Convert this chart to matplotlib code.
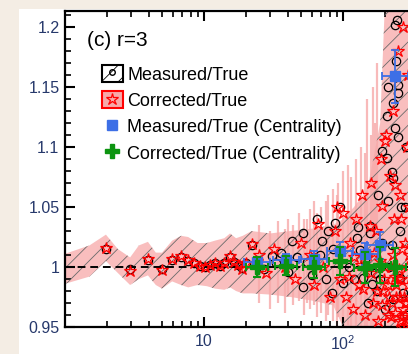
import matplotlib
matplotlib.use("Agg")
import matplotlib.pyplot as plt
from matplotlib.patches import Patch, Rectangle
from matplotlib.lines import Line2D
from matplotlib.ticker import FixedLocator, FixedFormatter, MultipleLocator, LogLocator, NullFormatter

plt.rcParams['font.family'] = ['Liberation Sans', 'DejaVu Sans']
plt.rcParams['mathtext.fontset'] = 'custom'
plt.rcParams['mathtext.rm'] = 'Liberation Sans'
plt.rcParams['mathtext.default'] = 'regular'
plt.rcParams['hatch.linewidth'] = 0.6

# error band (corrected / measured) : multiplicity, lower, upper
band_x = [1, 1.5, 1.97, 2.4, 2.94, 3.4, 3.95, 4.5, 4.99, 5.9, 6.84, 7.7, 9, 10.5, 12, 14,
          15.4, 17, 19, 22, 30, 42, 60, 85, 100, 120, 150, 185, 205, 300]
band_lo = [0.986, 0.992, 1.005, 0.995, 0.985, 0.99, 0.993, 0.985, 0.982, 0.988, 0.985, 0.983,
           0.985, 0.984, 0.982, 0.981, 0.983, 0.98, 0.978, 0.978, 0.977, 0.975, 0.972, 0.968,
           0.95, 0.945, 0.94, 0.935, 0.93, 0.90]
band_hi = [1.011, 1.018, 1.027, 1.015, 1.008, 1.018, 1.021, 1.012, 1.012, 1.022, 1.026, 1.025,
           1.02, 1.02, 1.022, 1.024, 1.028, 1.024, 1.026, 1.03, 1.028, 1.03, 1.032, 1.035,
           1.04, 1.05, 1.065, 1.12, 1.25, 1.30]

# single-point error streaks at high multiplicity
streak_x = [25, 30, 34, 38, 40, 44, 48, 52, 55, 58, 62, 65, 70, 75, 78, 85, 90, 92, 100,
            108, 115, 125, 135, 145, 160, 170, 150, 165, 175]
streak_lo = [0.970, 0.965, 0.970, 0.962, 0.975, 0.968, 0.972, 0.960, 0.970, 0.965, 0.968,
             0.958, 0.962, 0.955, 0.960, 0.955, 0.950, 0.958, 0.950, 0.952, 0.950, 0.950,
             0.950, 0.950, 0.950, 0.950, 0.950, 0.950, 0.950]
streak_hi = [1.035, 1.030, 1.038, 1.032, 1.040, 1.035, 1.045, 1.040, 1.040, 1.048, 1.055,
             1.045, 1.050, 1.055, 1.060, 1.065, 1.060, 1.070, 1.080, 1.085, 1.075, 1.090,
             1.100, 1.095, 1.110, 1.120, 1.140, 1.150, 1.170]

# Measured/True points
meas_x = [1.97, 2.94, 3.95, 4.99, 5.9, 6.84, 7.7, 8.5, 9.3, 10.2, 11, 12, 13, 14, 15.4, 16.5,
          17.5, 18.7, 20, 22.2, 24, 27, 30.8, 33, 36, 40, 43, 47, 51.6, 51.6, 55, 60, 65, 68,
          70.6, 75, 78, 83.4, 85, 87.6, 95.1, 100, 110, 120, 126, 128, 132, 139, 145, 151,
          156, 156, 162, 170, 176, 179, 185, 191, 191, 200, 207, 207, 211, 211, 215, 225,
          225, 229, 229, 229, 237, 237, 241, 245, 249, 249, 249, 257, 257, 260, 270, 280,
          285, 290]
meas_y = [1.015, 0.998, 1.006, 0.998, 1.006, 1.008, 1.005, 1.003, 1.001, 1.0, 1.002, 1.003,
          1.001, 1.003, 1.008, 1.004, 1.002, 0.999, 1.003, 1.018, 1.005, 0.998, 1.009, 1.003,
          1.012, 0.996, 1.022, 1.008, 0.983, 1.028, 1.004, 0.993, 1.040, 1.010, 1.022, 0.990,
          1.030, 0.978, 1.015, 1.037, 1.050, 0.987, 1.0, 0.990, 1.024, 1.033, 1.014, 0.991,
          1.005, 0.970, 1.028, 1.034, 0.986, 0.995, 0.980, 1.060, 0.990, 1.020, 1.097,
          0.965, 1.091, 1.126, 1.055, 1.150, 1.0, 1.018, 1.079, 0.973, 1.074, 1.137, 1.116,
          1.202, 1.172, 1.206, 1.108, 1.152, 1.145, 0.991, 1.030, 1.050, 0.978, 1.050,
          1.100, 0.960]

# Corrected/True points
corr_x = [1.97, 2.94, 3.95, 4.99, 5.9, 6.84, 7.7, 8.5, 9.3, 10.2, 11, 12, 13, 14, 15.4, 16.5,
          17.5, 18.7, 20, 22.2, 25, 28, 32, 38, 45, 50, 58, 62, 66, 72, 80, 88, 90, 95, 100,
          105, 112, 118, 125, 130, 138, 145, 150, 156, 158, 165, 172, 180, 188, 191, 195,
          200, 205, 212, 218, 220, 230, 237, 240, 248, 255, 257, 262, 270, 280, 290, 295,
          210, 235, 250, 265, 275, 285, 290, 225, 245, 260, 280,
          110, 135, 160, 175, 185, 198, 215, 228, 242, 252, 268, 278, 288, 298,
          120, 140, 168, 190, 202, 222, 238, 258, 272, 292, 232, 264, 284, 296]
corr_y = [1.016, 0.997, 1.0067, 0.9975, 1.0067, 1.009, 1.006, 1.003, 1.001, 1.0, 1.002, 1.003,
          1.001, 1.003, 1.009, 1.004, 1.002, 0.998, 1.003, 1.019, 1.01, 0.995, 1.015, 1.0,
          0.99, 1.02, 1.01, 0.985, 1.036, 1.0, 0.975, 1.03, 1.05, 0.99, 1.045, 0.975, 1.02,
          0.965, 1.04, 0.985, 1.06, 0.96, 1.01, 1.034, 1.07, 0.97, 1.03, 0.955, 1.09, 1.051,
          0.98, 1.105, 1.11, 0.96, 1.076, 1.0, 1.13, 1.068, 0.975, 1.18, 0.955, 1.06, 1.04,
          1.2, 0.97, 1.1, 1.16, 0.985, 0.962, 0.99, 0.958, 0.975, 0.952, 1.0, 0.97, 0.945,
          0.99, 0.96,
          0.992, 1.002, 0.995, 0.98, 1.005, 0.99, 0.975, 1.01, 0.985, 0.998, 0.965, 1.02, 0.955,
          1.01, 1.008, 0.982, 1.012, 0.968, 1.0, 0.958, 0.992, 0.975, 0.95, 0.985, 1.04, 1.015,
          0.97, 1.05]

# centrality classes
cent_x = [24.1, 38.9, 61.9, 95.2, 143.9, 184.7, 236.6]
cent_lo = [19.5, 31.5, 50, 77, 116, 149, 191]
cent_hi = [29.8, 48, 76.5, 118, 178, 229, 293]
cent_meas = [1.004, 1.006, 1.007, 1.013, 1.011, 1.018, 1.159]
cent_meas_err = [0.004, 0.005, 0.006, 0.008, 0.009, 0.011, 0.022]
cent_corr = [1.0, 1.001, 1.0, 1.005, 0.9995, 1.002, 1.0]
cent_corr_err = [0.008, 0.008, 0.009, 0.012, 0.013, 0.015, 0.016]

PINK = '#f7a9a9'
BLUE = '#3d6fe6'
GREEN = '#0c9410'
TICKCOL = '#26386b'

fig = plt.figure(figsize=(4.08, 3.54), dpi=100, facecolor='#f4ede4')
# white panel behind the plot
bg = fig.add_axes([19 / 408, 0, 1, 1 - 9 / 354], zorder=-5)
bg.set_axis_off()
bg.add_patch(Rectangle((0, 0), 1, 1, transform=bg.transAxes, facecolor='white', edgecolor='none'))

ax = fig.add_axes([65 / 408, 27 / 354, 361.7 / 408, 316 / 354])
ax.set_facecolor('none')

ax.fill_between(band_x, band_lo, band_hi, facecolor=PINK, edgecolor='none', alpha=0.75, zorder=1)
ax.vlines(streak_x, streak_lo, streak_hi, colors=PINK, linewidth=1.6, alpha=0.8, zorder=1)
ax.fill_between(band_x, band_lo, band_hi, facecolor='none', edgecolor='#6a6a6a', hatch='//',
                linewidth=0, zorder=2)

ax.axhline(1.0, color='black', ls=(0, (4, 2.5)), lw=1.4, zorder=3)

ax.plot(meas_x, meas_y, 'o', ms=6, mfc='none', mec='black', mew=0.9, zorder=4)
ax.plot(corr_x, corr_y, '*', ms=9, mfc='none', mec='red', mew=0.9, zorder=5)

xerr = [[c - l for c, l in zip(cent_x, cent_lo)], [h - c for c, h in zip(cent_x, cent_hi)]]
ax.errorbar(cent_x, cent_meas, xerr=xerr, yerr=cent_meas_err, fmt='s', ms=7, color=BLUE,
            ecolor=BLUE, elinewidth=1.3, capsize=3, capthick=1.3, zorder=6)
ax.errorbar(cent_x, cent_corr, xerr=[[e * 0.85 for e in xerr[0]], [e * 0.85 for e in xerr[1]]],
            yerr=cent_corr_err, fmt='P', ms=10, color=GREEN, ecolor=GREEN, elinewidth=1.5,
            capsize=3, capthick=1.5, zorder=7)

ax.set_xscale('log')
ax.set_xlim(1, 400)
ax.set_ylim(0.95, 1.2134)

ax.xaxis.set_major_locator(FixedLocator([10, 100]))
ax.xaxis.set_major_formatter(FixedFormatter(['10', '$10^2$']))
ax.xaxis.set_minor_locator(LogLocator(base=10, subs=[2, 3, 4, 5, 6, 7, 8, 9], numticks=20))
ax.xaxis.set_minor_formatter(NullFormatter())
ax.yaxis.set_major_locator(FixedLocator([0.95, 1.0, 1.05, 1.1, 1.15, 1.2]))
ax.yaxis.set_major_formatter(FixedFormatter(['0.95', '1', '1.05', '1.1', '1.15', '1.2']))
ax.yaxis.set_minor_locator(MultipleLocator(0.01))

ax.tick_params(which='both', direction='in', top=True, right=True, colors='black',
               labelcolor=TICKCOL, labelsize=11.5)
ax.tick_params(which='major', length=7, width=1.5)
ax.tick_params(which='minor', length=4, width=1.2)
ax.tick_params(axis='x', pad=5)
ax.tick_params(axis='y', pad=4)
for s in ax.spines.values():
    s.set_linewidth(1.6)

ax.text(0.061, 0.908, '(c) r=3', transform=ax.transAxes, fontsize=15, va='center', ha='left')

handles = [
    (Patch(facecolor='white', edgecolor='black', hatch='//', lw=1.5),
     Line2D([], [], marker='o', ms=4, mfc='none', mec='black', ls='')),
    (Patch(facecolor=PINK, edgecolor='red', lw=1.5),
     Line2D([], [], marker='*', ms=9, mfc='none', mec='red', mew=0.9, ls='')),
    Line2D([], [], marker='s', ms=7, color=BLUE, ls=''),
    Line2D([], [], marker='P', ms=10, color=GREEN, ls=''),
]
labels = ['Measured/True', 'Corrected/True', 'Measured/True (Centrality)',
          'Corrected/True (Centrality)']
ax.legend(handles, labels, loc='upper left', bbox_to_anchor=(0.1023, 0.830), frameon=False,
          fontsize=13, borderpad=0, borderaxespad=0, handlelength=1.15, handleheight=1.1,
          handletextpad=0.25, labelspacing=0.42)

fig.savefig('out.png', dpi=100, facecolor=fig.get_facecolor())
